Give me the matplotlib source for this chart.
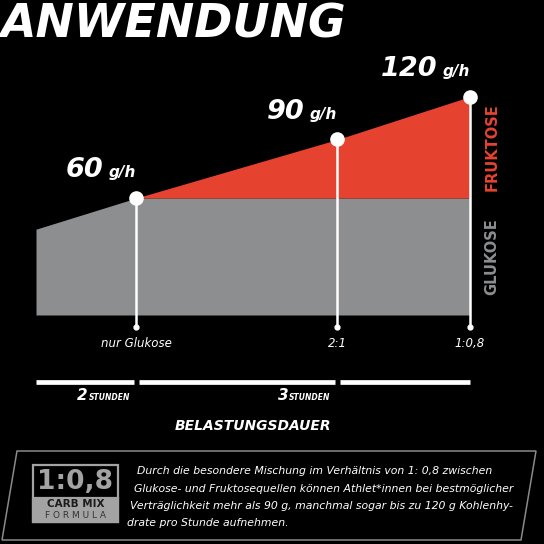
import matplotlib
matplotlib.use("Agg")
import matplotlib.pyplot as plt
import numpy as np
from matplotlib.patches import Polygon, Rectangle

# stage positions along the chart and the drawn height of the total curve (g/h scale)
stage_x = [0.0, 1.0, 3.0, 4.32]
total_top = [44, 60, 90, 112]
glucose_level = 60
point_labels = ["60", "90", "120"]
stage_labels = ["nur Glukose", "2:1", "1:0,8"]
duration_labels = ["2", "3", ""]

para_lines = [
    "Durch die besondere Mischung im Verhältnis von 1: 0,8 zwischen",
    "Glukose- und Fruktosequellen können Athlet*innen bei bestmöglicher",
    "Verträglichkeit mehr als 90 g, manchmal sogar bis zu 120 g Kohlenhy-",
    "drate pro Stunde aufnehmen.",
]

RED = "#e5432f"
GRAY = "#8c8e90"
BOLD_IT = dict(family="DejaVu Sans", weight="bold", style="italic")

W = H = 544
fig = plt.figure(figsize=(5.44, 5.44), dpi=100, facecolor="black")

def fx(px):
    return px / W

def fy(py):
    return 1 - py / H

# chart axes: x 36..470 px, y 0..315 px
ax = fig.add_axes([fx(36), fy(315), 434 / W, 315 / H])
ax.set_facecolor("black")
ax.set_xlim(0, 4.32)
ax.set_ylim(0, 161.5)
for s in ax.spines.values():
    s.set_visible(False)

xs = np.array(stage_x)
top = np.array(total_top, dtype=float)
gluc = np.minimum(top, glucose_level)
ax.fill_between(xs, 0, gluc, color=GRAY, lw=0)
ax.fill_between(xs, gluc, top, color=RED, lw=0)

px_x = xs[1:]
px_y = top[1:]
ax.vlines(px_x, -6, px_y, color="white", lw=1.8, clip_on=False, zorder=3)
ax.plot(px_x, [-6] * 3, "o", color="white", ms=3.5, clip_on=False, zorder=3)
ax.plot(px_x, px_y, "o", color="white", ms=9.5, clip_on=False, zorder=4)

for x, y, lab in zip(px_x, px_y, point_labels):
    ax.annotate("g/h", (x, y), xytext=(0, 15), textcoords="offset points",
                ha="right", va="baseline", color="white", fontsize=11,
                annotation_clip=False, **BOLD_IT)
    ax.annotate(lab, (x, y), xytext=(-23.5, 15), textcoords="offset points",
                ha="right", va="baseline", color="white", fontsize=19.5,
                annotation_clip=False, **BOLD_IT)

ax.set_xticks(px_x, labels=stage_labels)
ax.tick_params(axis="x", length=0, pad=16, colors="white", labelsize=8.5)
for t in ax.get_xticklabels():
    t.set_style("italic")
ax.set_yticks([])

# band labels
ax.text(4.54, (glucose_level + top[-1]) / 2, "FRUKTOSE", rotation=90, ha="center",
        va="center", color=RED, fontsize=10.5, weight="bold", clip_on=False)
ax.text(4.54, glucose_level / 2, "GLUKOSE", rotation=90, ha="center",
        va="center", color=GRAY, fontsize=10.5, weight="bold", clip_on=False)

# duration bars
bounds = list(stage_x)
gap = 0.025
for i in range(3):
    x0 = bounds[i] + (gap if i else 0)
    x1 = bounds[i + 1] - gap if i < 2 else bounds[i + 1]
    ax.hlines(-34.6, x0, x1, color="white", lw=3.4, clip_on=False)
    if duration_labels[i]:
        ax.annotate("STUNDEN", (x1, -34.6), xytext=(-3, -12.5), textcoords="offset points",
                    ha="right", va="baseline", color="white", fontsize=5.5,
                    annotation_clip=False, **BOLD_IT)
        ax.annotate(duration_labels[i], (x1, -34.6), xytext=(-33.5, -12.5),
                    textcoords="offset points", ha="right", va="baseline",
                    color="white", fontsize=11, annotation_clip=False, **BOLD_IT)

fig.text(fx(253), fy(426), "BELASTUNGSDAUER", ha="center", va="center",
         color="white", fontsize=10, **BOLD_IT)

fig.text(fx(1), fy(38), "ANWENDUNG", ha="left", va="baseline", color="white",
         fontsize=33, family="DejaVu Sans", weight="heavy", style="italic")

# info box
box = Polygon([(fx(17), fy(451)), (fx(536), fy(451)), (fx(521), fy(540)), (fx(2), fy(540))],
              closed=True, fill=False, ec="#8a8a8a", lw=1.1, transform=fig.transFigure)
fig.add_artist(box)

fig.add_artist(Rectangle((fx(33), fy(522)), 85 / W, 57 / H, fc="black", ec="#a3a3a3",
                         lw=1.6, transform=fig.transFigure))
fig.add_artist(Rectangle((fx(33), fy(522)), 85 / W, 24 / H, fc="#a3a3a3", ec="#a3a3a3",
                         lw=1.6, transform=fig.transFigure))
fig.text(fx(75.5), fy(482), "1:0,8", ha="center", va="center", color="#a3a3a3",
         fontsize=19, weight="bold", family="DejaVu Sans")
fig.text(fx(75.5), fy(504), "CARB MIX", ha="center", va="center", color="#1c1c1c",
         fontsize=7.5, weight="bold", family="DejaVu Sans")
fig.text(fx(75.5), fy(515.5), "F O R M U L A", ha="center", va="center", color="#333333",
         fontsize=6.5, family="DejaVu Sans")

line_x = [137, 134, 130, 127]
line_y = [471, 489, 506, 523]
for t, x, y in zip(para_lines, line_x, line_y):
    fig.text(fx(x), fy(y), t, ha="left", va="center", color="white",
             fontsize=7.8, style="italic", family="DejaVu Sans")

fig.savefig("out.png", dpi=100, facecolor="black")
